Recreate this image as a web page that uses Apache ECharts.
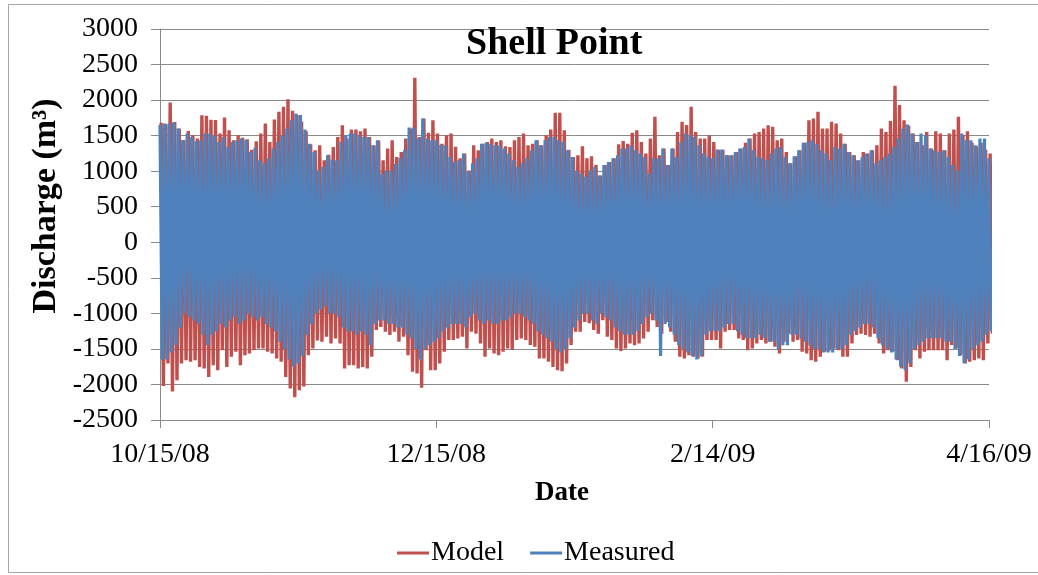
<!DOCTYPE html>
<html>
<head>
<meta charset="utf-8">
<script src="https://cdn.jsdelivr.net/npm/echarts@6/dist/echarts.min.js"></script>
<style>
  html, body { margin: 0; padding: 0; background: #ffffff; }
  #chart { width: 1038px; height: 575px; }
</style>
</head>
<body>
<div id="chart"></div>
<script>
// Daily tidal discharge extremes at Shell Point, 10/15/08 .. 4/16/09 (m^3)
const modelHigh = [
  1680,1660,1965,1690,1600,1440,1565,1505,1460,1785,
  1780,1725,1720,1530,1755,1575,1435,1505,1470,1450,
  1300,1420,1530,1670,1410,1725,1835,1905,2010,1850,
  1790,1700,1560,1380,1295,1365,1155,1230,1340,1480,
  1645,1460,1585,1585,1560,1600,1480,1360,1430,1155,
  1320,1435,1200,1270,1460,1600,2315,1480,1740,1540,
  1715,1530,1385,1505,1530,1345,1180,1250,1010,1365,
  1295,1385,1410,1460,1410,1435,1350,1340,1435,1480,
  1530,1365,1385,1435,1365,1505,1585,1820,1820,1575,
  1300,1200,1225,1350,1180,1210,1085,940,1085,1130,
  1180,1380,1425,1385,1540,1575,1410,1250,1460,1765,
  1225,1320,1085,1320,1550,1695,1650,1905,1550,1460,
  1460,1505,1410,1300,1300,1225,1225,1270,1320,1400,
  1460,1530,1550,1600,1645,1625,1435,1460,1270,1110,
  1210,1295,1400,1715,1740,1835,1600,1600,1695,1670,
  1530,1385,1270,1225,1155,1270,1250,1295,1365,1600,
  1550,1705,2200,1930,1715,1640,1530,1410,1365,1550,
  1320,1560,1530,1295,1530,1585,1765,1505,1560,1400,
  1350,1400,1300,1250
];
const modelLow = [
  -2020,-1705,-2100,-1940,-1705,-1660,-1680,-1660,-1755,-1775,
  -1895,-1730,-1800,-1520,-1755,-1610,-1540,-1730,-1590,-1565,
  -1520,-1495,-1495,-1540,-1565,-1635,-1680,-1895,-2055,-2180,
  -2080,-2030,-1590,-1495,-1380,-1400,-1330,-1425,-1355,-1425,
  -1775,-1730,-1730,-1775,-1755,-1775,-1610,-1235,-1190,-1260,
  -1305,-1260,-1400,-1330,-1590,-1820,-1845,-2045,-1520,-1800,
  -1800,-1705,-1540,-1375,-1375,-1355,-1330,-1495,-1260,-1285,
  -1425,-1610,-1495,-1565,-1590,-1540,-1495,-1510,-1375,-1355,
  -1375,-1445,-1470,-1635,-1635,-1680,-1755,-1800,-1815,-1705,
  -1445,-1260,-1260,-1120,-1140,-1235,-1285,-1095,-1330,-1375,
  -1495,-1530,-1495,-1425,-1450,-1425,-1355,-1260,-1095,-1190,
  -1285,-1120,-1260,-1400,-1610,-1635,-1590,-1610,-1635,-1610,
  -1375,-1375,-1375,-1495,-1260,-1235,-1235,-1355,-1375,-1520,
  -1495,-1425,-1375,-1425,-1400,-1470,-1565,-1400,-1285,-1400,
  -1375,-1540,-1565,-1660,-1680,-1610,-1540,-1520,-1495,-1520,
  -1610,-1610,-1425,-1305,-1285,-1305,-1330,-1285,-1425,-1565,
  -1520,-1540,-1660,-1775,-1960,-1755,-1520,-1635,-1540,-1520,
  -1520,-1520,-1520,-1660,-1445,-1495,-1590,-1705,-1680,-1660,
  -1635,-1660,-1425,-1285
];
const measuredHigh = [
  1650,1670,1670,1685,1600,1435,1530,1480,1420,1435,
  1530,1530,1500,1410,1480,1340,1410,1435,1460,1440,
  1270,1330,1155,1110,1180,1320,1410,1505,1600,1715,
  1810,1790,1585,1385,1270,1010,1060,1225,1160,1155,
  1410,1505,1530,1530,1500,1480,1480,1365,1435,965,
  1010,1010,1100,1180,1295,1615,1615,1460,1740,1460,
  1435,1435,1370,1365,1200,1130,1155,1250,990,1110,
  1180,1385,1400,1385,1365,1365,1320,1250,1155,1060,
  1110,1180,1295,1435,1365,1435,1480,1480,1435,1410,
  1295,1200,1010,965,920,1010,1060,940,1085,1130,
  1180,1225,1320,1320,1365,1295,1250,1200,965,1180,
  1180,1320,1085,1320,1200,1410,1530,1505,1480,1365,
  1250,1200,1180,1305,1305,1225,1225,1270,1320,1340,
  1460,1295,1200,1180,1155,1250,1320,1340,1200,1110,
  1210,1295,1400,1410,1435,1385,1295,1250,1155,1340,
  1320,1385,1270,1225,1155,1200,1250,1295,1110,1155,
  1200,1250,1340,1460,1600,1655,1530,1410,1530,1505,
  1320,1295,1270,1295,1200,1085,1010,1530,1435,1435,
  1365,1460,1460,1180
];
const measuredLow = [
  -1650,-1650,-1550,-1450,-1200,-1000,-1050,-1100,-1150,-1300,
  -1450,-1300,-1250,-1150,-1200,-1100,-1050,-1150,-1100,-1000,
  -1050,-1100,-1050,-1150,-1200,-1250,-1400,-1500,-1650,-1750,
  -1700,-1600,-1300,-1150,-1000,-950,-900,-1000,-1000,-1050,
  -1200,-1250,-1250,-1300,-1250,-1300,-1450,-1150,-1100,-1100,
  -1150,-1150,-1200,-1200,-1300,-1350,-1500,-1650,-1500,-1450,
  -1400,-1350,-1250,-1200,-1150,-1150,-1150,-1200,-1050,-1000,
  -1100,-1150,-1100,-1150,-1150,-1100,-1100,-1050,-1000,-1000,
  -1050,-1100,-1150,-1250,-1300,-1350,-1400,-1500,-1550,-1500,
  -1350,-1200,-1100,-1000,-1000,-1100,-1150,-1000,-1050,-1100,
  -1200,-1250,-1300,-1300,-1300,-1250,-1150,-1050,-1000,-1100,
  -1600,-1150,-1200,-1300,-1450,-1500,-1550,-1600,-1650,-1600,
  -1300,-1250,-1250,-1250,-1200,-1150,-1150,-1250,-1300,-1350,
  -1350,-1350,-1300,-1350,-1400,-1400,-1500,-1450,-1450,-1300,
  -1300,-1350,-1400,-1450,-1500,-1500,-1550,-1550,-1550,-1500,
  -1500,-1450,-1300,-1250,-1200,-1150,-1150,-1200,-1350,-1450,
  -1500,-1550,-1650,-1750,-1800,-1700,-1500,-1450,-1400,-1350,
  -1350,-1350,-1350,-1400,-1400,-1500,-1600,-1700,-1650,-1500,
  -1450,-1400,-1300,-1250
];
const dateTicks = ['10/15/08', '12/15/08', '2/14/09', '4/16/09'];
const tickSpacingDays = 61;
const seriesNames = ['Model', 'Measured'];

// ebb/flood sequence: high at the start of each day, low half a day later
function tideTrace(highs, lows, lagDays) {
  const pts = [];
  for (let i = 0; i < highs.length; i++) {
    pts.push([i + lagDays, highs[i]]);
    pts.push([i + lagDays + 0.5, lows[i]]);
  }
  return pts;
}

const serif = '"Liberation Serif", "Times New Roman", serif';
const gridGray = '#8a8a8a';
const modelColor = '#C0504D';
const measuredColor = '#4F81BD';

const chart = echarts.init(document.getElementById('chart'), null, { renderer: 'canvas' });
chart.setOption({
  animation: false,
  backgroundColor: '#ffffff',
  title: {
    text: 'Shell Point',
    left: 461,
    top: 20,
    textStyle: { fontFamily: serif, fontWeight: 'bold', fontSize: 38, color: '#000' }
  },
  legend: {
    data: [
      { name: seriesNames[0], icon: 'rect' },
      { name: seriesNames[1], icon: 'rect' }
    ],
    left: 392,
    top: 534,
    itemWidth: 32,
    itemHeight: 3,
    itemGap: 26,
    textStyle: { fontFamily: serif, fontSize: 28, color: '#000', padding: [0, 0, 0, -3], lineHeight: 28 }
  },
  grid: { left: 160, right: 49, top: 29, bottom: 155, containLabel: false },
  xAxis: {
    type: 'value',
    min: 0,
    max: (dateTicks.length - 1) * tickSpacingDays,
    interval: tickSpacingDays,
    splitLine: { show: false },
    axisLine: { onZero: false, lineStyle: { color: gridGray, width: 1 } },
    axisTick: { show: true, length: 8, lineStyle: { color: gridGray } },
    axisLabel: {
      margin: 21,
      fontFamily: serif, fontSize: 28, color: '#000',
      formatter: v => dateTicks[Math.round(v / tickSpacingDays)] || ''
    }
  },
  yAxis: {
    type: 'value',
    min: -2500,
    max: 3000,
    interval: 500,
    axisLine: { show: true, lineStyle: { color: gridGray, width: 1 } },
    axisTick: { show: true, length: 9, lineStyle: { color: gridGray } },
    splitLine: { show: true, lineStyle: { color: gridGray, width: 1 } },
    axisLabel: {
      margin: 22, fontFamily: serif, fontSize: 28, color: '#000',
      formatter: v => String(v)
    }
  },
  series: [
    {
      name: seriesNames[0],
      type: 'line',
      data: tideTrace(modelHigh, modelLow, 0.25),
      symbol: 'none',
      sampling: null,
      lineStyle: { color: modelColor, width: 3.4 },
      itemStyle: { color: modelColor }
    },
    {
      name: seriesNames[1],
      type: 'line',
      data: tideTrace(measuredHigh, measuredLow, 0),
      symbol: 'none',
      sampling: null,
      lineStyle: { color: measuredColor, width: 3.2 },
      itemStyle: { color: measuredColor }
    }
  ],
  graphic: [
    {
      type: 'rect',
      shape: { x: 8.5, y: 4.5, width: 1040, height: 568 },
      style: { fill: null, stroke: '#a6a6a6', lineWidth: 1 },
      silent: true
    },
    {
      type: 'text',
      x: 46, y: 206,
      rotation: Math.PI / 2,
      style: {
        text: 'Discharge (m³)',
        fontFamily: serif, fontWeight: 'bold', fontSize: 34, fill: '#000',
        align: 'center', verticalAlign: 'middle'
      }
    },
    {
      type: 'text',
      x: 562, y: 493,
      style: {
        text: 'Date',
        fontFamily: serif, fontWeight: 'bold', fontSize: 27, fill: '#000',
        align: 'center', verticalAlign: 'middle'
      }
    }
  ]
});
</script>
</body>
</html>
